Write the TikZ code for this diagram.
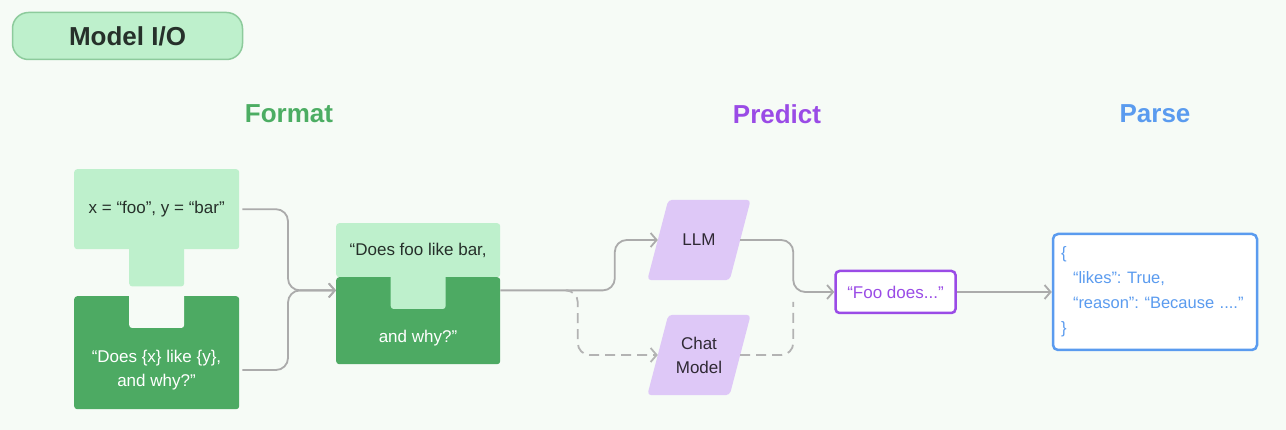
\documentclass[tikz,border=0pt]{standalone}
\usepackage{fontspec}
\setmainfont{Liberation Sans}
\usetikzlibrary{arrows.meta,positioning}

\definecolor{bgmint}{HTML}{F6FBF6}
\definecolor{lightgreen}{HTML}{BEF0CC}
\definecolor{pillborder}{HTML}{8DCB9C}
\definecolor{darkgreen}{HTML}{4DAA63}
\definecolor{formatgreen}{HTML}{4CAD63}
\definecolor{predictpurple}{HTML}{9A4BE6}
\definecolor{lavender}{HTML}{DEC8F7}
\definecolor{parseblue}{HTML}{5A9BEF}
\definecolor{linegrey}{HTML}{ABABAB}
\definecolor{dashgrey}{HTML}{B3B3B3}
\definecolor{inkdark}{HTML}{26302A}
\definecolor{inkpurple}{HTML}{2F2934}

\newcommand{\bodyfont}{\fontsize{17}{24}\selectfont}
\frenchspacing

\pgfdeclarelayer{bg}
\pgfsetlayers{bg,main}

\begin{document}
\begin{tikzpicture}[x=1pt,y=-1pt]
	\tikzstyle{light} = [fill=lightgreen, anchor=north west, rounded corners=3pt, text=inkdark, font=\bodyfont, inner sep=0pt]
	\tikzstyle{dark} = [fill=darkgreen, anchor=north west, rounded corners=3pt, inner sep=0pt]
	\tikzstyle{wtext} = [text=white, font=\bodyfont, align=center]
	\tikzstyle{heading} = [font=\fontsize{26}{30}\selectfont\bfseries]
	\tikzstyle{para} = [minimum width=82pt, minimum height=80pt, inner sep=0pt, text=inkpurple, font=\bodyfont, align=center]
	\tikzstyle{conn} = [draw=linegrey, line width=1.8pt, rounded corners=12pt, -{Straight Barb[length=6pt,width=14pt]}]
	\tikzstyle{dashconn} = [conn, draw=dashgrey, dash pattern=on 10pt off 6pt]

	\begin{pgfonlayer}{bg}
		\useasboundingbox[fill=bgmint] (0,0) rectangle (1286,430);
	\end{pgfonlayer}

	\node [draw=pillborder, line width=1.5pt, fill=lightgreen, rounded corners=16pt, minimum width=230pt, minimum height=47pt, text=inkdark, font=\fontsize{26}{30}\selectfont\bfseries] (title) at (127.5,36) {Model I/O};

	\node [heading, text=formatgreen] (format) at (289,114) {Format};
	\node [heading, text=predictpurple] (predict) at (777,114) {Predict};
	\node [heading, text=parseblue] (parse) at (1155,114) {Parse};

	% format
	\node [light, minimum width=165pt, minimum height=80pt] (vars) at (74,169) {x = “foo”, y = “bar”};
	\fill [lightgreen, rounded corners=3pt] ([xshift=-27.5pt,yshift=4pt]vars.south) -- ++(0,41) -- ++(55,0) -- ++(0,-41) -- cycle;

	\node [dark, minimum width=165pt, minimum height=113pt] (tmpl) at (74,296) {};
	\fill [bgmint, rounded corners=3pt] ([xshift=-27.5pt,yshift=4pt]tmpl.north) -- ++(0,36) -- ++(55,0) -- ++(0,-36) -- cycle;
	\node [wtext] (tmpltxt) at (156.5,370) {“Does \{x\} like \{y\},\\and why?”};

	\node [light, minimum width=164pt, minimum height=54pt] (mtop) at (336,223) {“Does foo like bar,};
	\node [dark, minimum width=164pt, minimum height=87pt] (mbase) at (336,277) {};
	\fill [lightgreen, rounded corners=3pt] ([xshift=-27.5pt,yshift=4pt]mbase.north) -- ++(0,36) -- ++(55,0) -- ++(0,-36) -- cycle;
	\node [wtext] (mbasetxt) at (418,338) {and why?”};

	\coordinate [below=13pt of mtop.south west] (min);
	\coordinate [below=13pt of mtop.south east] (mout);

	% predict
	\node [para] (llm) at (699,240) {LLM};
	\node [para] (chat) at (699,355) {Chat\\Model};
	\begin{pgfonlayer}{bg}
		\foreach \m in {llm,chat}
			\fill [lavender, rounded corners=4pt] ([xshift=-10.5pt]\m.south west) -- ([xshift=-10.5pt]\m.south east) -- ([xshift=10.5pt]\m.north east) -- ([xshift=10.5pt]\m.north west) -- cycle;
	\end{pgfonlayer}

	\node [draw=predictpurple, line width=2.5pt, rounded corners=4pt, fill=white, minimum width=120pt, minimum height=42pt, text=predictpurple, font=\bodyfont] (foo) at (895.5,292) {“Foo does...”};

	% parse
	\node [draw=parseblue, line width=2.5pt, rounded corners=5pt, fill=white, minimum width=204pt, minimum height=116pt, text width=188pt, inner xsep=8pt, align=left, text=parseblue, font=\fontsize{16.5}{25}\selectfont] (json) at (1155,292) {\{\\\hspace*{12pt}“likes”: True,\\\hspace*{12pt}“reason”: “Because ....”\\\}};

	\draw [conn] ([xshift=3pt]vars.east) -| ([xshift=-48pt]min) -- (min);
	\draw [conn] ([xshift=3pt]tmpl.east |- tmpltxt) -| ([xshift=-48pt]min) -- (min);
	\draw [conn] (mout) -| ([xshift=-43pt]llm.west) -- (llm.west);
	\draw [dashconn] ([xshift=68pt]mout) -| ([xshift=-80pt]chat.west) -- (chat.west);
	\draw [conn] (llm.east) -| ([xshift=-41pt]foo.west) -- (foo.west);
	\draw [dashconn, -] (chat.east) -| ([xshift=-41pt,yshift=-10pt]foo.west);
	\draw [conn] (foo.east) -- (json.west);
\end{tikzpicture}
\end{document}
